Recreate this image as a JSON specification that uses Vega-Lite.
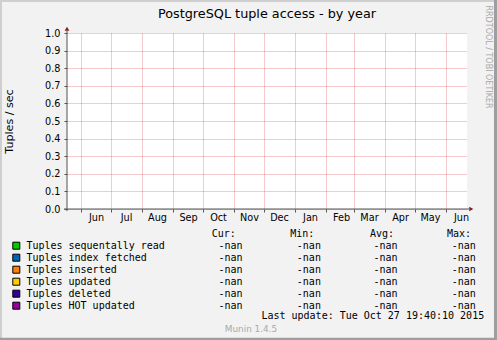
{
  "$schema": "https://vega.github.io/schema/vega-lite/v6.json",
  "width": 400,
  "height": 176,
  "autosize": {"type": "none"},
  "padding": {"left": 67, "top": 33, "right": 30, "bottom": 131},
  "background": "#f2f2f2",
  "config": {
    "font": "DejaVu Sans",
    "view": {"fill": "#ffffff", "stroke": null},
    "numberFormat": ".1f",
    "axis": {
      "domain": false,
      "grid": true,
      "gridColor": "#de4f4f",
      "gridOpacity": 0.6,
      "gridDash": [1, 1],
      "tickSize": 3,
      "tickColor": "#555555",
      "labelFont": "DejaVu Sans",
      "labelFontSize": 9.7,
      "labelColor": "#000000",
      "labelOverlap": false,
      "labelBound": false,
      "labelFlush": false,
      "titleFont": "DejaVu Sans",
      "titleFontSize": 11.1,
      "titleFontWeight": "normal",
      "titleColor": "#000000"
    },
    "axisX": {
      "tickCount": {"interval": "month", "step": 1},
      "labelExpr": "utcFormat(datum.value, '%b')",
      "labelOffset": 15,
      "labelAlign": "center",
      "labelBaseline": "middle",
      "labelPadding": 5
    },
    "axisY": {
      "tickCount": 10,
      "labelPadding": 4,
      "titlePadding": 29.6
    }
  },
  "datasets": {
    "series": [
      {"name": "Tuples sequentally read", "cur": "-nan", "min": "-nan", "avg": "-nan", "max": "-nan"},
      {"name": "Tuples index fetched", "cur": "-nan", "min": "-nan", "avg": "-nan", "max": "-nan"},
      {"name": "Tuples inserted", "cur": "-nan", "min": "-nan", "avg": "-nan", "max": "-nan"},
      {"name": "Tuples updated", "cur": "-nan", "min": "-nan", "avg": "-nan", "max": "-nan"},
      {"name": "Tuples deleted", "cur": "-nan", "min": "-nan", "avg": "-nan", "max": "-nan"},
      {"name": "Tuples HOT updated", "cur": "-nan", "min": "-nan", "avg": "-nan", "max": "-nan"}
    ],
    "meta": [
      {"title": "PostgreSQL tuple access - by year", "watermark": "RRDTOOL / TOBI OETIKER", "h_cur": "Cur:", "h_min": "Min:", "h_avg": "Avg:", "h_max": "Max:", "lastupdate": "Last update:  Tue Oct 27 19:40:10 2015", "munin": "Munin 1.4.5"}
    ]
  },
  "layer": [
    {
      "data": {"name": "meta"},
      "layer": [
        {
          "mark": {"type": "rule", "color": "#555555", "strokeWidth": 1},
          "encoding": {
            "x": {
              "datum": {"year": 2014, "month": 5, "date": 15, "utc": true},
              "type": "temporal",
              "scale": {"type": "utc", "domain": [{"year": 2014, "month": 5, "date": 18, "utc": true}, {"year": 2015, "month": 6, "date": 22, "utc": true}]}
            },
            "x2": {"datum": {"year": 2015, "month": 6, "date": 24, "utc": true}},
            "y": {
              "datum": 0,
              "type": "quantitative",
              "scale": {"domain": [0, 1], "nice": false, "zero": false},
              "axis": {"title": "Tuples / sec"}
            }
          }
        },
        {
          "mark": {"type": "rule", "color": "#555555", "strokeWidth": 1},
          "encoding": {
            "x": {"datum": {"year": 2014, "month": 5, "date": 18, "utc": true}, "type": "temporal"},
            "y": {"datum": -0.012, "type": "quantitative"},
            "y2": {"datum": 1.012}
          }
        },
        {
          "mark": {"type": "point", "shape": "triangle-up", "size": 22, "filled": true, "color": "#801f1f", "opacity": 1},
          "encoding": {
            "x": {"datum": {"year": 2014, "month": 5, "date": 18, "utc": true}, "type": "temporal"},
            "y": {"datum": 1.0244, "type": "quantitative"}
          }
        },
        {
          "mark": {"type": "point", "shape": "triangle-right", "size": 22, "filled": true, "color": "#801f1f", "opacity": 1},
          "encoding": {
            "x": {"datum": {"year": 2015, "month": 6, "date": 26, "hours": 7, "utc": true}, "type": "temporal"},
            "y": {"datum": 0, "type": "quantitative"}
          }
        },
        {
          "mark": {"type": "text", "align": "center", "baseline": "alphabetic", "fontSize": 12.8, "font": "DejaVu Sans", "color": "#000000"},
          "encoding": {
            "x": {"datum": {"year": 2014, "month": 12, "date": 4, "utc": true}, "type": "temporal"},
            "y": {"datum": 1.0835, "type": "quantitative"},
            "text": {"field": "title"}
          }
        },
        {
          "mark": {"type": "text", "align": "center", "baseline": "middle", "angle": 90, "fontSize": 8, "font": "DejaVu Sans", "color": "#a9a9a9"},
          "encoding": {
            "x": {"datum": {"year": 2015, "month": 7, "date": 13, "utc": true}, "type": "temporal"},
            "y": {"datum": 0.8636, "type": "quantitative"},
            "text": {"field": "watermark"}
          }
        }
      ]
    },
    {
      "layer": [
        {
          "data": {"name": "series"},
          "transform": [{"window": [{"op": "row_number", "as": "row"}]}],
          "encoding": {
            "y": {"field": "row", "type": "quantitative", "scale": {"domain": [-16.725, -2.058], "reverse": true, "nice": false, "zero": false}, "axis": null}
          },
          "layer": [
            {
              "mark": {"type": "point", "shape": "square", "filled": true, "size": 49, "stroke": "#000000", "strokeWidth": 1, "opacity": 1},
              "encoding": {
                "x": {"datum": 2.317, "type": "quantitative", "scale": {"domain": [10.767, 77.433], "nice": false, "zero": false}, "axis": null},
                "fill": {
                  "field": "name",
                  "type": "nominal",
                  "scale": {
                    "domain": ["Tuples sequentally read", "Tuples index fetched", "Tuples inserted", "Tuples updated", "Tuples deleted", "Tuples HOT updated"],
                    "range": ["#00cc00", "#0066b3", "#ff8000", "#ffcc00", "#330099", "#990099"]
                  },
                  "legend": null
                }
              }
            },
            {
              "mark": {"type": "text", "align": "left", "baseline": "middle", "font": "DejaVu Sans Mono", "fontSize": 10, "color": "#000000"},
              "encoding": {"x": {"datum": 4, "type": "quantitative", "axis": null}, "text": {"field": "name"}}
            },
            {
              "mark": {"type": "text", "align": "left", "baseline": "middle", "font": "DejaVu Sans Mono", "fontSize": 10, "color": "#000000"},
              "encoding": {"x": {"datum": 36.02, "type": "quantitative", "axis": null}, "text": {"field": "cur"}}
            },
            {
              "mark": {"type": "text", "align": "left", "baseline": "middle", "font": "DejaVu Sans Mono", "fontSize": 10, "color": "#000000"},
              "encoding": {"x": {"datum": 49.07, "type": "quantitative", "axis": null}, "text": {"field": "min"}}
            },
            {
              "mark": {"type": "text", "align": "left", "baseline": "middle", "font": "DejaVu Sans Mono", "fontSize": 10, "color": "#000000"},
              "encoding": {"x": {"datum": 61.85, "type": "quantitative", "axis": null}, "text": {"field": "avg"}}
            },
            {
              "mark": {"type": "text", "align": "left", "baseline": "middle", "font": "DejaVu Sans Mono", "fontSize": 10, "color": "#000000"},
              "encoding": {"x": {"datum": 74.9, "type": "quantitative", "axis": null}, "text": {"field": "max"}}
            }
          ]
        },
        {
          "data": {"name": "meta"},
          "layer": [
            {
              "mark": {"type": "text", "align": "left", "baseline": "middle", "font": "DejaVu Sans Mono", "fontSize": 10, "color": "#000000"},
              "encoding": {"x": {"datum": 34.88, "type": "quantitative", "axis": null}, "y": {"datum": 0, "type": "quantitative", "axis": null}, "text": {"field": "h_cur"}}
            },
            {
              "mark": {"type": "text", "align": "left", "baseline": "middle", "font": "DejaVu Sans Mono", "fontSize": 10, "color": "#000000"},
              "encoding": {"x": {"datum": 47.98, "type": "quantitative", "axis": null}, "y": {"datum": 0, "type": "quantitative", "axis": null}, "text": {"field": "h_min"}}
            },
            {
              "mark": {"type": "text", "align": "left", "baseline": "middle", "font": "DejaVu Sans Mono", "fontSize": 10, "color": "#000000"},
              "encoding": {"x": {"datum": 61.25, "type": "quantitative", "axis": null}, "y": {"datum": 0, "type": "quantitative", "axis": null}, "text": {"field": "h_avg"}}
            },
            {
              "mark": {"type": "text", "align": "left", "baseline": "middle", "font": "DejaVu Sans Mono", "fontSize": 10, "color": "#000000"},
              "encoding": {"x": {"datum": 74.08, "type": "quantitative", "axis": null}, "y": {"datum": 0, "type": "quantitative", "axis": null}, "text": {"field": "h_max"}}
            },
            {
              "mark": {"type": "text", "align": "left", "baseline": "middle", "font": "DejaVu Sans Mono", "fontSize": 10, "color": "#000000"},
              "encoding": {"x": {"datum": 43.17, "type": "quantitative", "axis": null}, "y": {"datum": 6.88, "type": "quantitative", "axis": null}, "text": {"field": "lastupdate"}}
            },
            {
              "mark": {"type": "text", "align": "center", "baseline": "middle", "font": "DejaVu Sans", "fontSize": 8.9, "color": "#a9a9a9"},
              "encoding": {"x": {"datum": 41.43, "type": "quantitative", "axis": null}, "y": {"datum": 7.92, "type": "quantitative", "axis": null}, "text": {"field": "munin"}}
            },
            {
              "mark": {"type": "rule", "color": "#cfcfcf", "strokeWidth": 2},
              "encoding": {"x": {"datum": -0.233, "type": "quantitative", "axis": null}, "y": {"datum": -19.5, "type": "quantitative", "axis": null}, "y2": {"datum": 8.9}}
            },
            {
              "mark": {"type": "rule", "color": "#cfcfcf", "strokeWidth": 2},
              "encoding": {"x": {"datum": -0.5, "type": "quantitative", "axis": null}, "x2": {"datum": 82.5}, "y": {"datum": -19.39, "type": "quantitative", "axis": null}}
            },
            {
              "mark": {"type": "rule", "color": "#9e9e9e", "strokeWidth": 3},
              "encoding": {"x": {"datum": 82.18, "type": "quantitative", "axis": null}, "y": {"datum": -19.5, "type": "quantitative", "axis": null}, "y2": {"datum": 8.9}}
            },
            {
              "mark": {"type": "rule", "color": "#9e9e9e", "strokeWidth": 2.5},
              "encoding": {"x": {"datum": -0.5, "type": "quantitative", "axis": null}, "x2": {"datum": 82.5}, "y": {"datum": 8.775, "type": "quantitative", "axis": null}}
            }
          ]
        }
      ]
    }
  ],
  "resolve": {
    "scale": {"x": "independent", "y": "independent"},
    "axis": {"x": "independent", "y": "independent"}
  }
}
